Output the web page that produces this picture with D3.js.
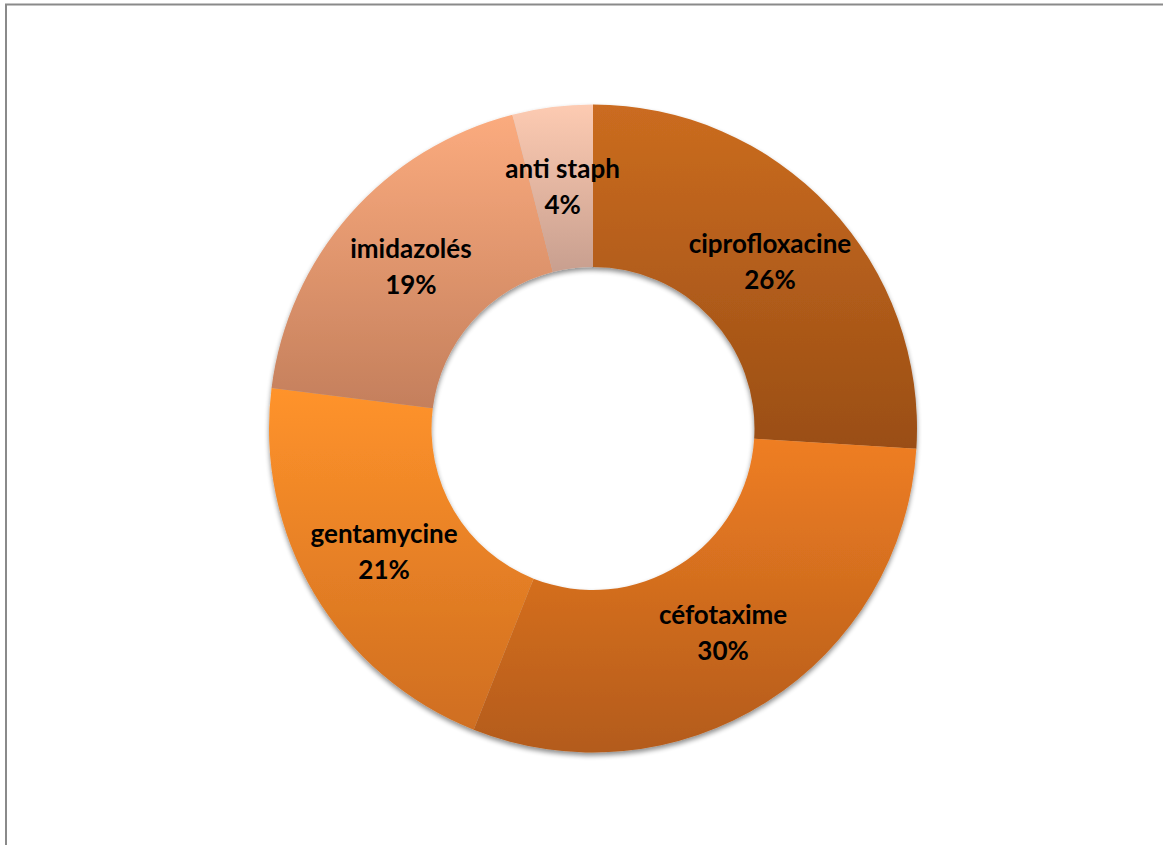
<!DOCTYPE html>
<html>
<head>
<meta charset="utf-8">
<script src="https://cdn.jsdelivr.net/npm/d3@7"></script>
<style>
  html, body { margin: 0; padding: 0; background: #fff; }
  svg { display: block; }
</style>
</head>
<body>
<svg id="chart" width="1163" height="845"></svg>
<script>
// Antibiotic usage shares, clockwise from 12 o'clock
const categories = ["ciprofloxacine", "céfotaxime", "gentamycine", "imidazolés", "anti staph"];
const values = [26, 30, 21, 19, 4];
const labels = ["26%", "30%", "21%", "19%", "4%"];
// Per-slice vertical gradient stops (top, bottom)
const topColors = ["#cb6c20", "#ef7e23", "#ff932b", "#fbab7e", "#fdcbb2"];
const bottomColors = ["#9a4e15", "#b35b1a", "#cf6e20", "#c47f5c", "#c89f8f"];

const W = 1163, H = 845;
const cx = 593, cy = 428.5;
const outerR = 324, innerR = 161.5;

const svg = d3.select("#chart");

// Frame around the chart area
svg.append("rect")
  .attr("x", 6).attr("y", 4.5)
  .attr("width", W + 20).attr("height", H + 20)
  .attr("fill", "none")
  .attr("stroke", "#8a8a8a")
  .attr("stroke-width", 2);

const defs = svg.append("defs");

const shadow = defs.append("filter")
  .attr("id", "ringShadow")
  .attr("x", "-10%").attr("y", "-10%")
  .attr("width", "120%").attr("height", "120%");
shadow.append("feGaussianBlur").attr("in", "SourceAlpha").attr("stdDeviation", 2.5).attr("result", "b");
shadow.append("feOffset").attr("in", "b").attr("dx", 0).attr("dy", 3).attr("result", "o");
shadow.append("feComponentTransfer").attr("in", "o").attr("result", "s")
  .append("feFuncA").attr("type", "linear").attr("slope", 0.45);
const merge = shadow.append("feMerge");
merge.append("feMergeNode").attr("in", "s");
merge.append("feMergeNode").attr("in", "SourceGraphic");

categories.forEach((c, i) => {
  const g = defs.append("linearGradient")
    .attr("id", "grad" + i)
    .attr("x1", 0).attr("y1", 0).attr("x2", 0).attr("y2", 1);
  g.append("stop").attr("offset", "0%").attr("stop-color", topColors[i]);
  g.append("stop").attr("offset", "100%").attr("stop-color", bottomColors[i]);
});

const data = categories.map((c, i) => ({ name: c, value: values[i], label: labels[i], i }));

const pie = d3.pie().value(d => d.value).sort(null);
const arc = d3.arc().innerRadius(innerR).outerRadius(outerR);
const arcs = pie(data);

const root = svg.append("g").attr("transform", `translate(${cx},${cy})`);

root.append("g")
  .attr("filter", "url(#ringShadow)")
  .selectAll("path")
  .data(arcs)
  .join("path")
  .attr("d", arc)
  .attr("fill", d => `url(#grad${d.data.i})`);

const lbl = root.append("g")
  .attr("font-family", "Lato, 'Open Sans', sans-serif")
  .attr("font-weight", "bold")
  .attr("font-size", 26)
  .attr("fill", "#000")
  .attr("text-anchor", "middle");

arcs.forEach(d => {
  const [x, y] = arc.centroid(d);
  const t = lbl.append("text").attr("x", x).attr("y", y);
  t.append("tspan").attr("x", x).attr("dy", -9.5).text(d.data.name);
  t.append("tspan").attr("x", x).attr("dy", 36).text(d.data.label);
});
</script>
</body>
</html>
